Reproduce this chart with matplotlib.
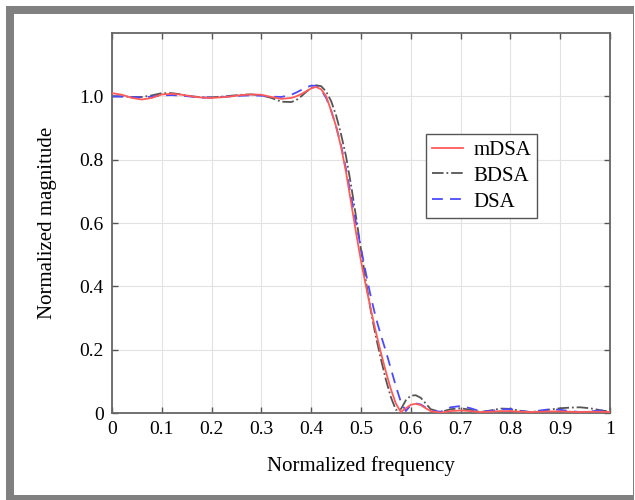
import matplotlib
matplotlib.use("Agg")
import matplotlib.pyplot as plt
from matplotlib.patches import Rectangle

plt.rcParams['font.family'] = ['Liberation Serif', 'DejaVu Serif']
plt.rcParams['mathtext.fontset'] = 'stix'

# normalized frequency samples (finer around the transition band)
freq = [0, .02, .04, .06, .08, .10, .12, .14, .16, .18, .20, .22, .24, .26, .28, .30, .32, .34, .36,
        .37, .38, .39, .40, .41, .42, .43, .44, .45, .46, .47, .48, .49, .50, .51, .52, .53, .54,
        .55, .56, .57, .58, .59, .60, .61, .62, .63, .64,
        .66, .68, .70, .72, .74, .76, .78, .80, .82, .84, .86, .88, .90, .92, .94, .96, .98, 1.0]

mdsa = [1.010, 1.005, 0.995, 0.990, 0.995, 1.006, 1.008, 1.005, 1.000, 0.996, 0.995, 0.997, 1.000,
        1.004, 1.006, 1.005, 0.998, 0.992, 0.995,
        1.000, 1.007, 1.016, 1.025, 1.030, 1.022, 1.000, 0.955, 0.905, 0.840, 0.760, 0.665, 0.570,
        0.480, 0.400, 0.325, 0.255, 0.190, 0.130, 0.075, 0.030, 0.003, 0.015, 0.026, 0.029, 0.025,
        0.015, 0.006,
        0.001, 0.006, 0.008, 0.006, 0.003, 0.004, 0.006, 0.006, 0.004, 0.003, 0.004, 0.005, 0.005,
        0.004, 0.003, 0.004, 0.004, 0.003]

bdsa = [1.000, 1.000, 0.998, 0.998, 1.003, 1.010, 1.010, 1.006, 1.000, 0.997, 0.997, 0.999, 1.002,
        1.005, 1.006, 1.003, 0.995, 0.983, 0.982,
        0.988, 1.000, 1.014, 1.027, 1.035, 1.032, 1.015, 0.985, 0.940, 0.880, 0.810, 0.720, 0.620,
        0.515, 0.415, 0.320, 0.240, 0.170, 0.105, 0.050, 0.010, 0.012, 0.040, 0.055, 0.056, 0.048,
        0.030, 0.012,
        0.003, 0.012, 0.015, 0.010, 0.003, 0.008, 0.014, 0.013, 0.007, 0.003, 0.006, 0.011, 0.015,
        0.017, 0.018, 0.015, 0.009, 0.004]

dsa = [1.000, 0.999, 0.997, 0.997, 0.999, 1.003, 1.004, 1.002, 0.999, 0.996, 0.996, 0.998, 1.000,
       1.002, 1.003, 1.002, 0.999, 0.998, 1.005,
       1.012, 1.020, 1.028, 1.034, 1.033, 1.020, 0.995, 0.955, 0.905, 0.845, 0.770, 0.685, 0.600,
       0.520, 0.440, 0.365, 0.300, 0.245, 0.195, 0.140, 0.085, 0.035, 0.006, 0.025, 0.030, 0.027,
       0.017, 0.007,
       0.004, 0.018, 0.022, 0.015, 0.005, 0.006, 0.012, 0.012, 0.006, 0.003, 0.008, 0.012, 0.010,
       0.006, 0.003, 0.005, 0.008, 0.005]

xticks = [0, 0.1, 0.2, 0.3, 0.4, 0.5, 0.6, 0.7, 0.8, 0.9, 1]
xticklabels = ['0', '0.1', '0.2', '0.3', '0.4', '0.5', '0.6', '0.7', '0.8', '0.9', '1']
yticks = [0, 0.2, 0.4, 0.6, 0.8, 1.0]
yticklabels = ['0', '0.2', '0.4', '0.6', '0.8', '1.0']

fig = plt.figure(figsize=(6.35, 5), dpi=100)
W, H = 635, 500

# gray picture frame
fig.add_artist(Rectangle((6 / W, 0), (634 - 6) / W, 494 / H, transform=fig.transFigure,
                         facecolor='#808080', edgecolor='none', zorder=-10))
fig.add_artist(Rectangle((13.5 / W, 5 / H), (632.5 - 13.5) / W, (486 - 5) / H,
                         transform=fig.transFigure, facecolor='white', edgecolor='none', zorder=-9))

ax = fig.add_axes([112 / W, (500 - 413) / H, (610 - 112) / W, (413 - 33) / H])

ax.plot(freq, mdsa, color='#ff5a5a', lw=1.3, ls='-', label='mDSA', zorder=3)
ax.plot(freq, bdsa, color='#555555', lw=1.3, ls='-.', label='BDSA', zorder=2)
ax.plot(freq, dsa, color='#4a4aff', lw=1.3, ls=(0, (6, 4)), label='DSA', zorder=2)

ax.set_xlim(0, 1)
ax.set_ylim(0, 1.2)
ax.set_xticks(xticks)
ax.set_xticklabels(xticklabels)
ax.set_yticks(yticks)
ax.set_yticklabels(yticklabels)
ax.tick_params(direction='in', length=4, width=1, color='#555555', labelsize=14,
               top=True, right=True, pad=6)
ax.grid(True, color='#e2e2e2', lw=0.8)
for s in ax.spines.values():
    s.set_color('#666666')
    s.set_linewidth(1.3)

ax.set_xlabel('Normalized frequency', fontsize=15, labelpad=13)
ax.set_ylabel('Normalized magnitude', fontsize=15, labelpad=16)

leg = ax.legend(loc='upper left', bbox_to_anchor=(0.631, 0.734), borderaxespad=0,
                fontsize=15, fancybox=False, framealpha=1, edgecolor='#555555',
                handlelength=1.45, handletextpad=0.5, labelspacing=0.3, borderpad=0.3)
leg.get_frame().set_linewidth(1.0)

fig.savefig('out.png', dpi=100)
